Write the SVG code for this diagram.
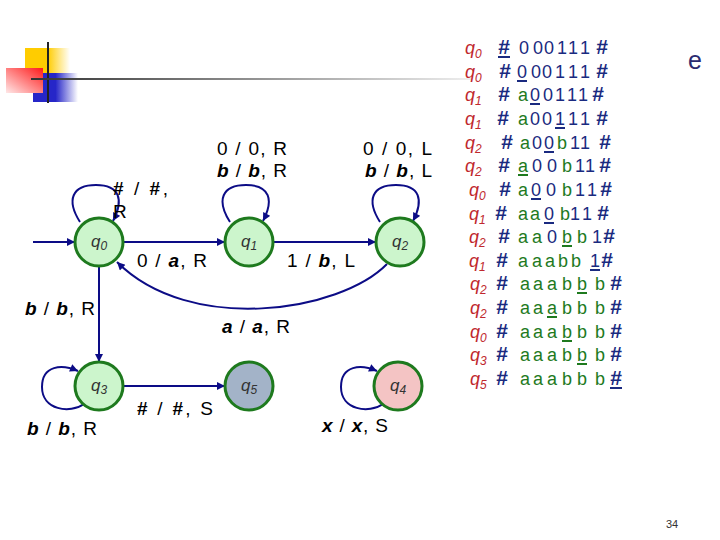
<svg xmlns="http://www.w3.org/2000/svg" width="720" height="540" viewBox="0 0 720 540">
<style>
.edge{fill:none;stroke:#0c0c86;stroke-width:2}
.node{stroke:#1e7a1e;stroke-width:3}
.g{fill:#ccf5cc}
.ql{font-family:"Liberation Sans",Arial,sans-serif;font-style:italic;font-size:17px;fill:#333;text-anchor:middle}
.lbl{font-family:"Liberation Sans",Arial,sans-serif;font-size:19px;fill:#000}
.it{font-style:italic;font-weight:bold}
.hb{font-weight:bold}
.tq{font-family:"Liberation Sans",Arial,sans-serif;font-style:italic;font-size:18px;fill:#c0282d}
.tape{font-family:"Liberation Sans",Arial,sans-serif;font-size:18px;text-anchor:middle}
.tape .hb{font-size:21px}
.bl{fill:#1a2a80}
.gr{fill:#1e7a1e}
.ub{stroke:#1a2a80;stroke-width:2}
.ug{stroke:#1e7a1e;stroke-width:2}
</style>
<defs>
<marker id="ah" viewBox="0 0 10 10" refX="10" refY="5" markerWidth="9" markerHeight="8" markerUnits="userSpaceOnUse" orient="auto">
<path d="M0,0 L10,5 L0,10 z" fill="#0c0c86"/>
</marker>
<linearGradient id="gy" x1="0" y1="0" x2="1" y2="0"><stop offset="0" stop-color="#ffcc00"/><stop offset="0.5" stop-color="#ffcc00"/><stop offset="1" stop-color="#ffffff"/></linearGradient>
<linearGradient id="gb" x1="0" y1="0" x2="1" y2="0"><stop offset="0" stop-color="#2626c8"/><stop offset="0.5" stop-color="#2626c8"/><stop offset="1" stop-color="#ffffff"/></linearGradient>
<linearGradient id="grd" x1="1" y1="0" x2="0" y2="1"><stop offset="0" stop-color="#ff1a1a"/><stop offset="1" stop-color="#ffe8e8"/></linearGradient>
<linearGradient id="gl" x1="0" y1="0" x2="1" y2="0"><stop offset="0" stop-color="#333333"/><stop offset="1" stop-color="#eeeeee"/></linearGradient>
</defs>
<rect width="720" height="540" fill="#ffffff"/>
<g id="logo">
<rect x="25" y="48" width="45" height="25" fill="url(#gy)"/>
<rect x="33" y="73" width="45" height="29" fill="url(#gb)"/>
<rect x="6" y="68" width="37" height="25" fill="url(#grd)"/>
<line x1="48" y1="42" x2="48" y2="103" stroke="#222" stroke-width="2"/>
<rect x="31" y="78" width="440" height="2" fill="url(#gl)"/>
</g>
<g id="connectors">
<path class="edge" d="M33,242 L75,242" marker-end="url(#ah)"/>
<path class="edge" d="M123,242 L225,242" marker-end="url(#ah)"/>
<path class="edge" d="M273,242 L376,242" marker-end="url(#ah)"/>
<path class="edge" d="M99,266 L99,362" marker-end="url(#ah)"/>
<path class="edge" d="M123,386 L225,386" marker-end="url(#ah)"/>
<path class="edge" d="M387,264 C340,312 190,335 117,262" marker-end="url(#ah)"/>
<path class="edge" d="M80,222 C66,200 72,185 96,185 C120,185 124,200 113,221" marker-end="url(#ah)"/>
<path class="edge" d="M230,222 C216,200 222,185 246,185 C270,185 274,200 263,221" marker-end="url(#ah)"/>
<path class="edge" d="M380,222 C366,200 372,185 396,185 C420,185 424,200 413,221" marker-end="url(#ah)"/>
<path class="edge" d="M84,404 C70,414 42,410 42,387 C42,365 62,364 78,371" marker-end="url(#ah)"/>
<path class="edge" d="M383,404 C369,414 341,410 341,387 C341,365 361,364 377,371" marker-end="url(#ah)"/>
</g>
<g id="q0"><circle class="node g" cx="99" cy="242" r="24"/><text class="ql" x="99" y="247">q<tspan font-size="12" dy="3">0</tspan></text></g>
<g id="q1"><circle class="node g" cx="249" cy="242" r="24"/><text class="ql" x="249" y="247">q<tspan font-size="12" dy="3">1</tspan></text></g>
<g id="q2"><circle class="node g" cx="400" cy="242" r="24"/><text class="ql" x="400" y="247">q<tspan font-size="12" dy="3">2</tspan></text></g>
<g id="q3"><circle class="node g" cx="99" cy="386" r="24"/><text class="ql" x="99" y="391">q<tspan font-size="12" dy="3">3</tspan></text></g>
<g id="q5"><circle class="node" fill="#a3b3c8" cx="249" cy="386" r="24"/><text class="ql" x="249" y="391">q<tspan font-size="12" dy="3">5</tspan></text></g>
<g id="q4"><circle class="node" fill="#f4c4c4" cx="398" cy="386" r="24"/><text class="ql" x="398" y="391">q<tspan font-size="12" dy="3">4</tspan></text></g>
<g id="labels">
<text class="lbl" x="217" y="155" textLength="70" lengthAdjust="spacing">0 / 0, R</text>
<text class="lbl" x="217" y="177" textLength="70" lengthAdjust="spacing"><tspan class="it">b</tspan> / <tspan class="it">b</tspan>, R</text>
<text class="lbl" x="363" y="155" textLength="69" lengthAdjust="spacing">0 / 0, L</text>
<text class="lbl" x="365" y="177" textLength="67" lengthAdjust="spacing"><tspan class="it">b</tspan> / <tspan class="it">b</tspan>, L</text>
<text class="lbl" x="113" y="195" textLength="55" lengthAdjust="spacing"><tspan class="hb">#</tspan> / <tspan class="hb">#</tspan>,</text>
<text class="lbl" x="113" y="218">R</text>
<text class="lbl" x="137" y="267" textLength="70" lengthAdjust="spacing">0 / <tspan class="it">a</tspan>, R</text>
<text class="lbl" x="287" y="267" textLength="68" lengthAdjust="spacing">1 / <tspan class="it">b</tspan>, L</text>
<text class="lbl" x="25" y="315" textLength="70" lengthAdjust="spacing"><tspan class="it">b</tspan> / <tspan class="it">b</tspan>, R</text>
<text class="lbl" x="222" y="333" textLength="68" lengthAdjust="spacing"><tspan class="it">a</tspan> / <tspan class="it">a</tspan>, R</text>
<text class="lbl" x="137" y="415" textLength="76" lengthAdjust="spacing"><tspan class="hb">#</tspan> / <tspan class="hb">#</tspan>, S</text>
<text class="lbl" x="27" y="435" textLength="70" lengthAdjust="spacing"><tspan class="it">b</tspan> / <tspan class="it">b</tspan>, R</text>
<text class="lbl" x="322" y="432" textLength="66" lengthAdjust="spacing"><tspan class="it">x</tspan> / <tspan class="it">x</tspan>, S</text>
</g>
<g id="trace">
<text class="tq" x="465" y="54">q<tspan font-size="12" dy="4">0</tspan></text>
<text class="tape" y="54"><tspan class="bl hb" x="504">#</tspan><tspan class="bl" x="524">0</tspan><tspan class="bl" x="538">0</tspan><tspan class="bl" x="549">0</tspan><tspan class="bl" x="562">1</tspan><tspan class="bl" x="573">1</tspan><tspan class="bl" x="585">1</tspan><tspan class="bl hb" x="602">#</tspan></text>
<line class="ub" x1="498" y1="57" x2="510" y2="57"/>

<text class="tq" x="465" y="78">q<tspan font-size="12" dy="4">0</tspan></text>
<text class="tape" y="78"><tspan class="bl hb" x="505">#</tspan><tspan class="bl" x="522">0</tspan><tspan class="bl" x="536">0</tspan><tspan class="bl" x="547">0</tspan><tspan class="bl" x="560">1</tspan><tspan class="bl" x="573">1</tspan><tspan class="bl" x="585">1</tspan><tspan class="bl hb" x="602">#</tspan></text>
<line class="ub" x1="517" y1="81" x2="527" y2="81"/>

<text class="tq" x="465" y="101">q<tspan font-size="12" dy="4">1</tspan></text>
<text class="tape" y="101"><tspan class="bl hb" x="504">#</tspan><tspan class="gr" x="523">a</tspan><tspan class="bl" x="535">0</tspan><tspan class="bl" x="548">0</tspan><tspan class="bl" x="560">1</tspan><tspan class="bl" x="572">1</tspan><tspan class="bl" x="583">1</tspan><tspan class="bl hb" x="598">#</tspan></text>
<line class="ub" x1="530" y1="104" x2="540" y2="104"/>

<text class="tq" x="465" y="125">q<tspan font-size="12" dy="4">1</tspan></text>
<text class="tape" y="125"><tspan class="bl hb" x="503">#</tspan><tspan class="gr" x="523">a</tspan><tspan class="bl" x="535">0</tspan><tspan class="bl" x="547">0</tspan><tspan class="bl" x="560">1</tspan><tspan class="bl" x="573">1</tspan><tspan class="bl" x="585">1</tspan><tspan class="bl hb" x="602">#</tspan></text>
<line class="ub" x1="555" y1="128" x2="565" y2="128"/>

<text class="tq" x="465" y="149">q<tspan font-size="12" dy="4">2</tspan></text>
<text class="tape" y="149"><tspan class="bl hb" x="507">#</tspan><tspan class="gr" x="525">a</tspan><tspan class="bl" x="537">0</tspan><tspan class="bl" x="549">0</tspan><tspan class="gr" x="562">b</tspan><tspan class="bl" x="575">1</tspan><tspan class="bl" x="585">1</tspan><tspan class="bl hb" x="605">#</tspan></text>
<line class="ub" x1="544" y1="152" x2="554" y2="152"/>

<text class="tq" x="465" y="172">q<tspan font-size="12" dy="4">2</tspan></text>
<text class="tape" y="172"><tspan class="bl hb" x="504">#</tspan><tspan class="gr" x="523">a</tspan><tspan class="bl" x="537">0</tspan><tspan class="bl" x="552">0</tspan><tspan class="gr" x="567">b</tspan><tspan class="bl" x="580">1</tspan><tspan class="bl" x="590">1</tspan><tspan class="bl hb" x="605">#</tspan></text>
<line class="ug" x1="518" y1="175" x2="528" y2="175"/>

<text class="tq" x="469" y="196">q<tspan font-size="12" dy="4">0</tspan></text>
<text class="tape" y="196"><tspan class="bl hb" x="505">#</tspan><tspan class="gr" x="523">a</tspan><tspan class="bl" x="536">0</tspan><tspan class="bl" x="551">0</tspan><tspan class="gr" x="567">b</tspan><tspan class="bl" x="580">1</tspan><tspan class="bl" x="592">1</tspan><tspan class="bl hb" x="606">#</tspan></text>
<line class="ub" x1="531" y1="199" x2="541" y2="199"/>

<text class="tq" x="469" y="220">q<tspan font-size="12" dy="4">1</tspan></text>
<text class="tape" y="220"><tspan class="bl hb" x="501">#</tspan><tspan class="gr" x="523">a</tspan><tspan class="gr" x="535">a</tspan><tspan class="bl" x="549">0</tspan><tspan class="gr" x="565">b</tspan><tspan class="bl" x="575">1</tspan><tspan class="bl" x="587">1</tspan><tspan class="bl hb" x="603">#</tspan></text>
<line class="ub" x1="544" y1="223" x2="554" y2="223"/>

<text class="tq" x="469" y="243">q<tspan font-size="12" dy="4">2</tspan></text>
<text class="tape" y="243"><tspan class="bl hb" x="504">#</tspan><tspan class="gr" x="523">a</tspan><tspan class="gr" x="537">a</tspan><tspan class="bl" x="552">0</tspan><tspan class="gr" x="567">b</tspan><tspan class="gr" x="582">b</tspan><tspan class="bl" x="597">1</tspan><tspan class="bl hb" x="609">#</tspan></text>
<line class="ug" x1="562" y1="246" x2="572" y2="246"/>

<text class="tq" x="469" y="267">q<tspan font-size="12" dy="4">1</tspan></text>
<text class="tape" y="267"><tspan class="bl hb" x="502">#</tspan><tspan class="gr" x="523">a</tspan><tspan class="gr" x="537">a</tspan><tspan class="gr" x="550">a</tspan><tspan class="gr" x="563">b</tspan><tspan class="gr" x="576">b</tspan><tspan class="bl" x="595">1</tspan><tspan class="bl hb" x="607">#</tspan></text>
<line class="ub" x1="590" y1="270" x2="600" y2="270"/>

<text class="tq" x="470" y="290">q<tspan font-size="12" dy="4">2</tspan></text>
<text class="tape" y="290"><tspan class="bl hb" x="502">#</tspan><tspan class="gr" x="525">a</tspan><tspan class="gr" x="538">a</tspan><tspan class="gr" x="552">a</tspan><tspan class="gr" x="567">b</tspan><tspan class="gr" x="582">b</tspan><tspan class="gr" x="600">b</tspan><tspan class="bl hb" x="616">#</tspan></text>
<line class="ug" x1="577" y1="293" x2="587" y2="293"/>

<text class="tq" x="470" y="314">q<tspan font-size="12" dy="4">2</tspan></text>
<text class="tape" y="314"><tspan class="bl hb" x="502">#</tspan><tspan class="gr" x="525">a</tspan><tspan class="gr" x="538">a</tspan><tspan class="gr" x="552">a</tspan><tspan class="gr" x="567">b</tspan><tspan class="gr" x="582">b</tspan><tspan class="gr" x="600">b</tspan><tspan class="bl hb" x="616">#</tspan></text>
<line class="ug" x1="547" y1="317" x2="557" y2="317"/>

<text class="tq" x="470" y="338">q<tspan font-size="12" dy="4">0</tspan></text>
<text class="tape" y="338"><tspan class="bl hb" x="502">#</tspan><tspan class="gr" x="525">a</tspan><tspan class="gr" x="538">a</tspan><tspan class="gr" x="552">a</tspan><tspan class="gr" x="567">b</tspan><tspan class="gr" x="582">b</tspan><tspan class="gr" x="600">b</tspan><tspan class="bl hb" x="616">#</tspan></text>
<line class="ug" x1="562" y1="341" x2="572" y2="341"/>

<text class="tq" x="470" y="361">q<tspan font-size="12" dy="4">3</tspan></text>
<text class="tape" y="361"><tspan class="bl hb" x="502">#</tspan><tspan class="gr" x="525">a</tspan><tspan class="gr" x="538">a</tspan><tspan class="gr" x="552">a</tspan><tspan class="gr" x="567">b</tspan><tspan class="gr" x="582">b</tspan><tspan class="gr" x="600">b</tspan><tspan class="bl hb" x="616">#</tspan></text>
<line class="ug" x1="577" y1="364" x2="587" y2="364"/>

<text class="tq" x="470" y="385">q<tspan font-size="12" dy="4">5</tspan></text>
<text class="tape" y="385"><tspan class="bl hb" x="502">#</tspan><tspan class="gr" x="525">a</tspan><tspan class="gr" x="538">a</tspan><tspan class="gr" x="552">a</tspan><tspan class="gr" x="567">b</tspan><tspan class="gr" x="582">b</tspan><tspan class="gr" x="600">b</tspan><tspan class="bl hb" x="616">#</tspan></text>
<line class="ub" x1="610" y1="388" x2="622" y2="388"/>
</g>
<text x="695" y="69" font-family="Liberation Sans, Arial, sans-serif" font-size="25" fill="#2a2a70" text-anchor="middle">e</text>
<text x="666" y="528" font-family="Liberation Sans, Arial, sans-serif" font-size="11" fill="#333">34</text>
</svg>
